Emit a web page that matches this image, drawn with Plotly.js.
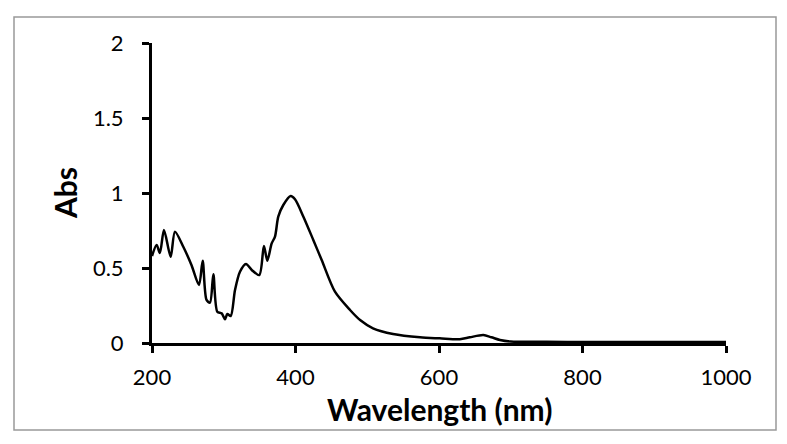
<!DOCTYPE html>
<html>
<head>
<meta charset="utf-8">
<script src="https://cdn.plot.ly/plotly-3.0.1.min.js"></script>
<style>html,body{margin:0;padding:0;background:#fff;}#chart{width:787px;height:444px;}</style>
</head>
<body>
<div id="chart"></div>
<script>
const wavelength = [200, 206.5, 211, 216.7, 226, 232, 243.6, 255, 265.5, 270.6, 276, 280.8, 285.5, 291, 297, 301.7, 305, 309.7, 315.7, 322.6, 331, 339, 349.5, 356, 360.7, 366.8, 371.4, 376, 383, 393.3, 399.3, 411, 424.8, 436.5, 455, 476, 490, 508, 536, 573.5, 601, 629, 643, 661.8, 673, 685, 700, 750, 800, 900, 1000];
const absorbance = [0.58, 0.653, 0.60, 0.753, 0.575, 0.742, 0.642, 0.52, 0.387, 0.549, 0.287, 0.269, 0.458, 0.209, 0.198, 0.158, 0.193, 0.18, 0.353, 0.475, 0.527, 0.487, 0.453, 0.647, 0.549, 0.664, 0.709, 0.842, 0.92, 0.98, 0.958, 0.842, 0.687, 0.553, 0.342, 0.22, 0.153, 0.098, 0.06, 0.038, 0.031, 0.025, 0.038, 0.053, 0.038, 0.02, 0.01, 0.008, 0.007, 0.006, 0.006];
const xTicks = [200, 400, 600, 800, 1000];
const yTicks = [0, 0.5, 1, 1.5, 2];
const xTitle = 'Wavelength (nm)';
const yTitle = 'Abs';

const L = 152, R = 61, T = 43, B = 101;
const W = 787 - L - R, H = 444 - T - B;
const px = p => (p - L) / W;
const py = p => (444 - B - p) / H;

const trace = {
  x: wavelength, y: absorbance, type: 'scatter', mode: 'lines',
  line: {color: '#000', width: 2.5, shape: 'spline', smoothing: 0.8},
  hoverinfo: 'skip'
};
const font = {family: 'Lato, "Open Sans", sans-serif', color: '#000'};
const layout = {
  width: 787, height: 444,
  margin: {l: L, r: R, t: T, b: B},
  paper_bgcolor: '#fff', plot_bgcolor: '#fff',
  showlegend: false,
  font: Object.assign({size: 22}, font),
  xaxis: {
    range: [200, 1000], tickvals: xTicks, ticktext: xTicks.map(String),
    showgrid: false, zeroline: false, showline: true, linecolor: '#000', linewidth: 3,
    ticks: 'outside', ticklen: 7, tickwidth: 3, tickcolor: '#000',
    ticklabelstandoff: 6,
    tickfont: Object.assign({size: 22}, font)
  },
  yaxis: {
    range: [0, 2], tickvals: yTicks, ticktext: yTicks.map(String),
    showgrid: false, zeroline: false, showline: true, linecolor: '#000', linewidth: 3,
    ticks: 'outside', ticklen: 7, tickwidth: 3, tickcolor: '#000',
    ticklabelstandoff: 14,
    tickfont: Object.assign({size: 22}, font)
  },
  annotations: [
    {text: '<b>' + xTitle + '</b>', xref: 'paper', yref: 'paper', x: px(439), y: py(409),
     xanchor: 'center', yanchor: 'middle', showarrow: false, font: Object.assign({size: 30}, font)},
    {text: '<b>' + yTitle + '</b>', xref: 'paper', yref: 'paper', x: px(65), y: py(193),
     xanchor: 'center', yanchor: 'middle', textangle: -90, showarrow: false, font: Object.assign({size: 30}, font)}
  ],
  shapes: [
    {type: 'rect', xref: 'paper', yref: 'paper', x0: px(14), x1: px(776), y0: py(430), y1: py(17),
     line: {color: '#999', width: 1.5}, layer: 'below'}
  ]
};
Plotly.newPlot('chart', [trace], layout, {staticPlot: true, displayModeBar: false});
</script>
</body>
</html>
